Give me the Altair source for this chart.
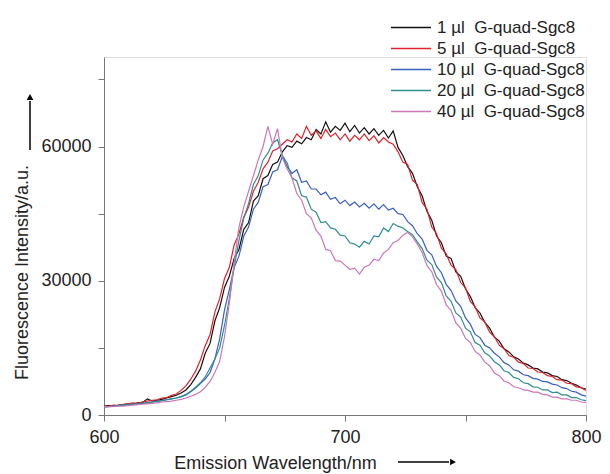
import altair as alt
import pandas as pd

wavelength = list(range(600, 802, 2))

NB = "\u00a0"
series_names = [
    "1 µl" + NB + " G-quad-Sgc8",
    "5 µl" + NB + " G-quad-Sgc8",
    "10 µl" + NB + " G-quad-Sgc8",
    "20 µl" + NB + " G-quad-Sgc8",
    "40 µl" + NB + " G-quad-Sgc8",
]
series_colors = ["#111111", "#e3202a", "#3a5fc0", "#2e8f8f", "#cc77b9"]

s1 = [2000, 2100, 1900, 2200, 2300, 2500, 2400, 2700, 2800, 3600, 3100, 3300, 3500, 3800, 4100,
      4400, 4900, 5600, 6800, 8400, 10300, 13800, 16000, 21000, 24000, 28500, 31000, 35000, 37000,
      41500, 43000, 47800, 49000, 52800, 53500, 56000, 56500, 58800, 60200, 59800, 61200, 60600,
      62000, 61500, 63800, 62800, 65500, 63200, 64500, 63600, 65200, 63300, 64700, 63000, 64200,
      62800, 64000, 62500, 63600, 61900, 63500, 59800, 58000, 55500, 54000, 51000, 49000, 45500,
      43500, 40000, 38500, 35500, 35000, 32000, 31000, 28200, 26500, 24000, 22800, 20700, 19400,
      17400, 16500, 14800, 14100, 13000, 12500, 11600, 11200, 10500, 10300, 9600, 9400, 8800, 8600,
      7900, 7700, 7100, 6700, 6100, 5800]
s5 = [2100, 1900, 2200, 2100, 2400, 2500, 2700, 2600, 2900, 3100, 3300, 3400, 3800, 3900, 4400,
      4700, 5500, 6500, 8000, 9800, 12300, 15500, 18000, 23000, 26000, 30500, 33000, 38000, 40500,
      44200, 46500, 50000, 52000, 55000, 56500, 59000, 59500, 60500, 61500, 61000, 62800, 61800,
      64500, 62500, 63500, 61800, 63800, 62200, 63000, 61500, 62800, 61200, 62500, 61500, 62800,
      61300, 62400, 60800, 62000, 61000, 60500, 58800, 56500, 56000, 52500, 51500, 47500, 46000,
      42000, 40500, 37300, 36000, 33500, 32500, 29600, 28400, 25400, 24200, 21700, 20800, 18500,
      17500, 15600, 14800, 13300, 12900, 11800, 11500, 10500, 10400, 9600, 9500, 8800, 8600, 7900,
      7800, 7100, 7000, 6300, 6100, 5500]
s10 = [1800, 1900, 2000, 2100, 2200, 2300, 2400, 2500, 2600, 2800, 2900, 3100, 3200, 3400, 3600,
       3800, 4100, 4500, 5200, 6000, 7000, 8000, 9500, 12500, 17000, 23500, 28000, 33000, 35500,
       40000, 42000, 46000, 47500, 51000, 51500, 54300, 54800, 57800, 55500, 54000, 54800, 52000,
       52300, 50500, 50500, 49200, 49800, 48200, 48600, 47200, 48000, 46800, 47600, 46500, 47300,
       46200, 47200, 46000, 47000, 45800, 46200, 45000, 44800, 43200, 42300, 40500, 39300, 36800,
       35800, 33200, 31800, 29200, 27800, 25500, 24300, 21700, 20300, 18000, 17300, 15600, 15000,
       13800, 13000, 11700, 11200, 10100, 9800, 9000, 8800, 8200, 8000, 7500, 7400, 6900, 6700,
       6100, 5900, 5300, 5100, 4500, 4200]
s20 = [1800, 1900, 1900, 2100, 2200, 2300, 2400, 2500, 2600, 2700, 2900, 3000, 3200, 3400, 3600,
       3800, 4100, 4600, 5300, 6200, 7200, 8500, 10500, 12500, 15000, 20000, 26000, 33000, 39000,
       44000, 47300, 51500, 53500, 57000, 58500, 60800, 61500, 58000, 56300, 53000, 52300, 49000,
       48700, 46000, 45300, 43000, 43200, 41800, 41500, 40200, 40000, 38500, 38200, 37500, 38800,
       38200, 40000, 39800, 41800, 41000, 42800, 42200, 41800, 41000, 40300, 38700, 37200, 34600,
       33600, 30800, 29600, 26600, 25400, 22800, 21900, 19400, 18600, 16200, 15600, 13900, 13200,
       11900, 11200, 9900, 9500, 8400, 8100, 7200, 7000, 6300, 6200, 5600, 5600, 5000, 5100,
       4500, 4500, 3900, 3900, 3400, 3200]
s40 = [1800, 1800, 1900, 2000, 2000, 2100, 2200, 2300, 2400, 2500, 2600, 2700, 2900, 3000, 3100,
       3300, 3500, 3800, 4200, 4600, 5200, 6200, 7500, 9500, 12000, 17500, 25000, 34000, 42000,
       46500, 50000, 53500, 57000, 60000, 64500, 60500, 64000, 57500, 55000, 53000, 49500, 48000,
       45000, 44000, 41300, 40000, 37000, 36700, 34500, 34400, 33500, 32500, 32800, 31500, 33000,
       33500, 34800, 34500, 36200, 37000, 38500, 39000, 40200, 40800, 39800, 38200, 36300, 33400,
       32000, 29100, 27700, 24600, 23400, 20600, 19400, 17100, 16200, 14200, 13400, 11800, 11000,
       9400, 8800, 7600, 7200, 6300, 6100, 5600, 5500, 5100, 5100, 4600, 4500, 4000, 4000,
       3600, 3600, 3300, 3300, 2900, 2800]

x_ticks = [600, 650, 700, 750, 800]
y_ticks = [0, 15000, 30000, 45000, 60000, 75000]

FONT = "Liberation Sans"

all_series = [s1, s5, s10, s20, s40]
rows = []
for name, vals in zip(series_names, all_series):
    for w, v in zip(wavelength, vals):
        rows.append({"wl": w, "val": v, "series": name})
df = pd.DataFrame(rows)

lines = alt.Chart(df).mark_line(strokeWidth=1.2, clip=True).encode(
    x=alt.X("wl:Q",
            scale=alt.Scale(domain=[600, 800], nice=False, zero=False),
            axis=alt.Axis(values=x_ticks, format="d",
                          labelExpr="datum.value % 100 == 0 ? datum.label : ''",
                          title="Emission Wavelength/nm", titleFontSize=18,
                          titleFontWeight="normal", titleFont=FONT, titleColor="#222",
                          titleX=171, titleY=48, titleAlign="center", titleBaseline="middle",
                          labelFont=FONT, labelFontSize=18, labelColor="#222",
                          labelPadding=7, tickSize=6, grid=False, labelFlush=False,
                          domainColor="#777", tickColor="#777")),
    y=alt.Y("val:Q",
            scale=alt.Scale(domain=[0, 80000], nice=False),
            axis=alt.Axis(values=y_ticks, format="d",
                          labelExpr="datum.value % 30000 == 0 ? datum.label : ''",
                          title="Fluorescence Intensity/a.u.", titleFontSize=18,
                          titleFontWeight="normal", titleFont=FONT, titleColor="#222",
                          titleX=-82, titleY=215, titleAlign="center", titleBaseline="middle",
                          labelFont=FONT, labelFontSize=18, labelColor="#222",
                          labelPadding=7, tickSize=6, grid=False, labelFlush=False,
                          domainColor="#777", tickColor="#777")),
    color=alt.Color("series:N",
                    scale=alt.Scale(domain=series_names, range=series_colors),
                    sort=series_names,
                    legend=alt.Legend(orient="none", legendX=286, legendY=-38, title=None,
                                      symbolType="stroke", symbolSize=1600,
                                      symbolStrokeWidth=1.5, labelFont=FONT,
                                      labelFontSize=17, labelColor="#222",
                                      clipHeight=17, rowPadding=3, labelOffset=5,
                                      padding=0)),
)

one = pd.DataFrame({"k": [0]})
x_arrow = alt.Chart(one).mark_rule(color="black", strokeWidth=1.5).encode(
    x=alt.value(294), x2=alt.value(345), y=alt.value(405))
x_head = alt.Chart(one).mark_point(shape="triangle-right", filled=True, color="black",
                                   size=45, opacity=1).encode(
    x=alt.value(349), y=alt.value(405))
y_arrow = alt.Chart(one).mark_rule(color="black", strokeWidth=1.5).encode(
    x=alt.value(-74), y=alt.value(93), y2=alt.value(44))
y_head = alt.Chart(one).mark_point(shape="triangle-up", filled=True, color="black",
                                   size=45, opacity=1).encode(
    x=alt.value(-74), y=alt.value(40))

chart = alt.layer(lines, x_arrow, x_head, y_arrow, y_head).properties(
    width=482, height=358,
    autosize="none",
    padding={"left": 96, "top": 49, "right": 16, "bottom": 58},
).configure_view(stroke=None).configure(background="white")

chart.save("out.html", embed_options={"renderer": "svg", "actions": False})
